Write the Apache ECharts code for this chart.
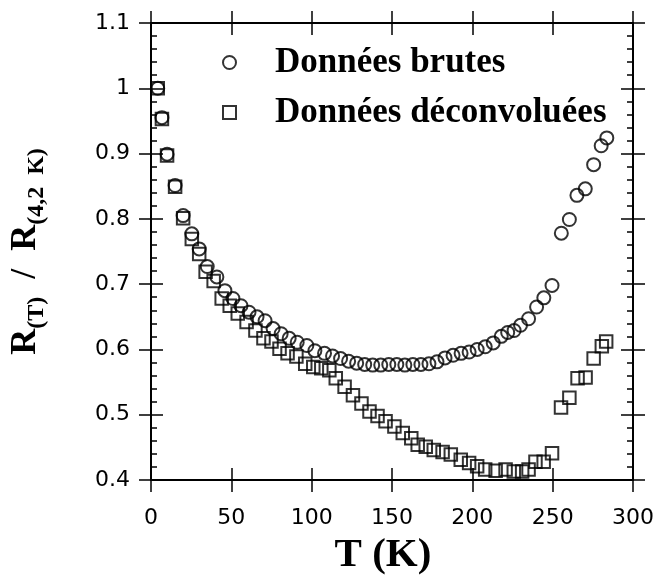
<!DOCTYPE html>
<html>
<head>
<meta charset="utf-8">
<script src="https://cdn.jsdelivr.net/npm/echarts@6/dist/echarts.min.js"></script>
<style>
html,body{margin:0;padding:0;background:#fff;}
#chart{width:659px;height:581px;}
</style>
</head>
<body>
<div id="chart"></div>
<script>
// Data
const seriesNames = ['Données brutes', 'Données déconvoluées'];
const xTickLabels = ['0', '50', '100', '150', '200', '250', '300'];
const yTickLabels = ['0.4', '0.5', '0.6', '0.7', '0.8', '0.9', '1', '1.1'];

const bruteT = [4.2, 6.8, 10, 15, 20, 25.4, 30, 35, 41, 46, 51, 56, 61, 66, 71, 76, 81, 86, 91, 97,
  102, 108, 113, 118, 123, 128, 133, 138, 143, 148, 153, 158, 163, 168, 173, 178, 183, 188, 193, 198,
  203, 208, 213, 218, 222, 226, 230, 235, 240, 244.5, 249.6, 255.4, 260.4, 265.1, 270.3, 275.5, 280.2, 283.7];
const bruteR = [1.000, 0.955, 0.899, 0.851, 0.805, 0.777, 0.754, 0.727, 0.711, 0.690, 0.678, 0.667, 0.657, 0.650, 0.644, 0.632, 0.624, 0.617, 0.611, 0.606,
  0.598, 0.594, 0.590, 0.586, 0.582, 0.579, 0.577, 0.576, 0.576, 0.577, 0.577, 0.576, 0.577, 0.577, 0.578, 0.581, 0.587, 0.591, 0.594, 0.596,
  0.600, 0.604, 0.610, 0.620, 0.626, 0.629, 0.637, 0.647, 0.665, 0.679, 0.698, 0.778, 0.799, 0.836, 0.846, 0.883, 0.912, 0.924];

const deconvT = [4.2, 6.8, 10, 15, 20, 25.4, 30, 34, 39, 44, 49, 54, 59.5, 65, 70, 75, 80, 85, 90.5, 96,
  101, 106, 111, 115, 120.5, 125.7, 131, 136, 141, 146, 151.5, 156.7, 162, 166, 171, 176, 181.5, 186.6, 192.8, 198,
  203, 208, 214.5, 220.7, 225.8, 231, 235, 239.3, 244.4, 249.6, 255.2, 260.4, 265.5, 270.5, 275.5, 280.6, 283.3];
const deconvR = [1.000, 0.953, 0.897, 0.849, 0.801, 0.769, 0.746, 0.719, 0.705, 0.678, 0.667, 0.655, 0.642, 0.629, 0.617, 0.612, 0.601, 0.594, 0.589, 0.578,
  0.573, 0.571, 0.568, 0.556, 0.543, 0.530, 0.517, 0.505, 0.498, 0.490, 0.482, 0.472, 0.464, 0.454, 0.451, 0.446, 0.443, 0.439, 0.431, 0.426,
  0.421, 0.416, 0.414, 0.416, 0.413, 0.413, 0.416, 0.428, 0.428, 0.441, 0.511, 0.526, 0.556, 0.557, 0.586, 0.605, 0.612];

const pairs = (xs, ys) => xs.map((x, i) => [x, ys[i]]);

const chart = echarts.init(document.getElementById('chart'), null, {renderer: 'canvas'});

const lineStyle = {color: '#000', width: 2};
const tickStyle = {color: '#000', width: 1.5};
const sansFont = 'DejaVu Sans';
const serifFont = 'Liberation Serif';

function xAxisCfg(position, inside, withLabel, withLine) {
  return {
    type: 'value', min: 0, max: 300, interval: 50, position: position,
    axisLine: {show: withLine, onZero: false, lineStyle: lineStyle},
    axisTick: {show: true, inside: inside, length: 12, lineStyle: tickStyle},
    splitLine: {show: false},
    axisLabel: withLabel ? {
      show: true, margin: 27, color: '#000', fontFamily: sansFont, fontSize: 22,
      formatter: (v) => xTickLabels[Math.round(v / 50)]
    } : {show: false}
  };
}
function yAxisCfg(position, inside, withLabel, withLine, minor) {
  return {
    type: 'value', min: 0.4, max: 1.1, interval: 0.1, position: position,
    axisLine: {show: withLine, onZero: false, lineStyle: lineStyle},
    axisTick: {show: true, inside: inside, length: 12, lineStyle: tickStyle},
    minorTick: {show: minor, splitNumber: 5, length: 6, lineStyle: tickStyle},
    splitLine: {show: false},
    axisLabel: withLabel ? {
      show: true, margin: 21, color: '#000', fontFamily: sansFont, fontSize: 22,
      formatter: (v) => yTickLabels[Math.round((v - 0.4) / 0.1)]
    } : {show: false}
  };
}

const xAxes = [
  xAxisCfg('bottom', false, true, true),
  xAxisCfg('bottom', true, false, false),
  xAxisCfg('top', false, false, true),
  xAxisCfg('top', true, false, false)
];
xAxes[0].name = 'T (K)';
xAxes[0].nameLocation = 'middle';
xAxes[0].nameGap = 55;
xAxes[0].nameTextStyle = {fontFamily: serifFont, fontWeight: 'bold', fontSize: 41, color: '#000', padding: [0, 18, 0, 0]};

const yAxes = [
  yAxisCfg('left', false, true, true, false),
  yAxisCfg('left', true, false, false, true),
  yAxisCfg('right', false, false, true, false),
  yAxisCfg('right', true, false, false, true)
];
yAxes[0].name = '{r|R}{s|(T)}{r|  /  R}{s|(4,2  K)}';
yAxes[0].nameLocation = 'middle';
yAxes[0].nameRotate = 90;
yAxes[0].nameGap = 102;
yAxes[0].nameTextStyle = {
  color: '#000', fontFamily: serifFont, fontWeight: 'bold',
  rich: {
    r: {fontSize: 36, fontFamily: serifFont, fontWeight: 'bold', color: '#000', lineHeight: 46},
    s: {fontSize: 24, fontFamily: serifFont, fontWeight: 'bold', color: '#000', verticalAlign: 'bottom'}
  }
};

const markStyle = {color: 'rgba(0,0,0,0)', borderColor: '#000', borderWidth: 2};

chart.setOption({
  animation: false,
  backgroundColor: '#fff',
  grid: {left: 149, right: 26, top: 23, bottom: 99, containLabel: false},
  legend: {
    orient: 'vertical', left: 222, top: 45, padding: 0, itemGap: 15,
    itemWidth: 13, itemHeight: 13,
    selectedMode: false,
    textStyle: {fontFamily: serifFont, fontWeight: 'bold', fontSize: 35, color: '#000', lineHeight: 30, padding: [0, 0, 0, 34]},
    data: [
      {name: seriesNames[0], icon: 'circle', itemStyle: markStyle},
      {name: seriesNames[1], icon: 'rect', itemStyle: markStyle}
    ]
  },
  xAxis: xAxes,
  yAxis: yAxes,
  series: [
    {
      name: seriesNames[0], type: 'scatter', xAxisIndex: 0, yAxisIndex: 0,
      symbol: 'circle', symbolSize: 13, itemStyle: markStyle,
      data: pairs(bruteT, bruteR)
    },
    {
      name: seriesNames[1], type: 'scatter', xAxisIndex: 0, yAxisIndex: 0,
      symbol: 'rect', symbolSize: 12.5, itemStyle: markStyle,
      data: pairs(deconvT, deconvR)
    }
  ]
});
</script>
</body>
</html>
